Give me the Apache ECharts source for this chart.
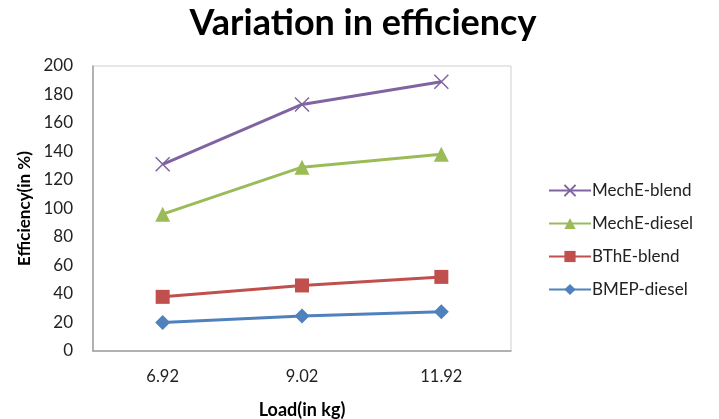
<!DOCTYPE html>
<html>
<head>
<meta charset="utf-8">
<script src="https://cdn.jsdelivr.net/npm/echarts@6/dist/echarts.min.js"></script>
<style>
  html, body { margin: 0; padding: 0; background: #fff; }
  #chart { width: 719px; height: 419px; }
</style>
</head>
<body>
<div id="chart"></div>
<script>
// loads on x axis
const loads = ["6.92", "9.02", "11.92"];

// series values
const mechEBlend = [131, 173, 189];
const mechEDiesel = [96, 129, 138];
const bthEBlend = [38, 46, 52];
const bmepDiesel = [20, 24.5, 27.5];

const crossPath = "path://M0,0L10,10M10,0L0,10";
const fontFamily = "Lato, 'Open Sans', sans-serif";

const chart = echarts.init(document.getElementById("chart"));

function line(name, data, color, symbol, size) {
	return {
		name: name,
		type: "line",
		data: data,
		symbol: symbol,
		symbolSize: size,
		showAllSymbol: true,
		lineStyle: { color: color, width: 3 },
		itemStyle: {
			color: color,
			borderColor: color,
			borderWidth: symbol === crossPath ? 1.5 : 0,
		},
		emphasis: { disabled: true },
	};
}

chart.setOption({
	animation: false,
	textStyle: { fontFamily: fontFamily },
	title: {
		text: "Variation in efficiency",
		left: 358,
		textAlign: "center",
		top: 0,
		textStyle: { fontSize: 36, fontWeight: "bold", color: "#000", fontFamily: fontFamily },
	},
	grid: {
		left: 93,
		right: 208,
		top: 66,
		bottom: 68,
		outerBoundsMode: "none",
		show: true,
		borderColor: "#d0d0d0",
		borderWidth: 1,
	},
	legend: {
		orient: "vertical",
		left: 543,
		top: 177,
		itemWidth: 42,
		itemHeight: 14,
		itemGap: 16,
		textStyle: { fontSize: 17, color: "#222", fontFamily: fontFamily, padding: [0, 0, 0, -4] },
		data: ["MechE-blend", "MechE-diesel", "BThE-blend", "BMEP-diesel"],
	},
	xAxis: {
		type: "category",
		data: loads,
		name: "Load(in kg)",
		nameLocation: "middle",
		nameGap: 50,
		nameTextStyle: { fontSize: 18, fontWeight: "bold", color: "#000" },
		axisLine: { lineStyle: { color: "#a0a0a0", width: 1.5 } },
		axisTick: { show: false },
		axisLabel: { fontSize: 16.5, color: "#222", margin: 17 },
	},
	yAxis: {
		type: "value",
		min: 0,
		max: 200,
		interval: 20,
		name: "Efficiency(in %)",
		nameLocation: "middle",
		nameGap: 60,
		nameTextStyle: { fontSize: 17, fontWeight: "bold", color: "#000" },
		axisLine: { show: true, lineStyle: { color: "#a0a0a0", width: 1.5 } },
		axisTick: { show: false },
		splitLine: { show: false },
		axisLabel: { fontSize: 17, color: "#222", margin: 20 },
	},
	series: [
		line("MechE-blend", mechEBlend, "#8064A2", crossPath, 14),
		line("MechE-diesel", mechEDiesel, "#9BBB59", "triangle", 15),
		line("BThE-blend", bthEBlend, "#C0504D", "rect", 14),
		line("BMEP-diesel", bmepDiesel, "#4F81BD", "diamond", 15),
	],
});
</script>
</body>
</html>
